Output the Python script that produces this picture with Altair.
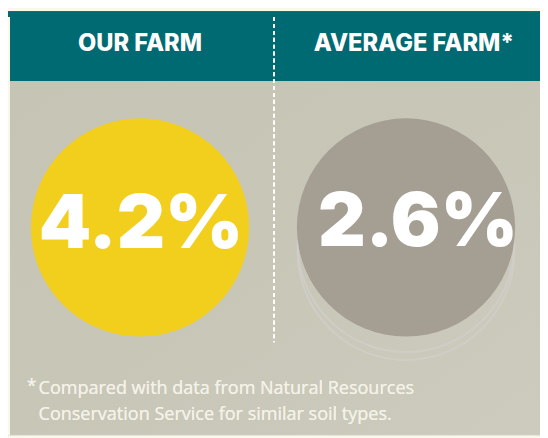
import altair as alt
import pandas as pd

# ---- data ----
farms = ["OUR FARM", "AVERAGE FARM*"]
values = [4.2, 2.6]
circle_colors = ["#F2CF1C", "#A59F93"]
footnote_mark = "*"
footnote_lines = ["Compared with data from Natural Resources",
                  "Conservation Service for similar soil types."]

df = pd.DataFrame({"farm": farms, "value": values})

W, H = 540, 430
TEAL = "#006A73"
CREAM = "#FAF8E8"

xscale = alt.Scale(type="point", domain=farms, range=[134, 404], padding=0)
X = alt.X("farm:N", scale=xscale, axis=None)

base = alt.Chart(df)

teal = base.mark_rect(color=TEAL).encode(
    x=alt.value(0), x2=alt.value(W), y=alt.value(0), y2=alt.value(71))
panel = base.mark_rect(color=alt.Gradient(
    gradient="linear", x1=0, y1=0, x2=1, y2=1,
    stops=[alt.GradientStop(color="#C6C4B4", offset=0),
           alt.GradientStop(color="#C8C6B7", offset=0.5),
           alt.GradientStop(color="#CDCBBD", offset=1)])).encode(
    x=alt.value(2), x2=alt.value(W), y=alt.value(71), y2=alt.value(H))
cream = base.mark_rect(color=CREAM).encode(
    x=alt.value(0), x2=alt.value(2), y=alt.value(6), y2=alt.value(H))

divider = base.mark_rule(color="white", strokeWidth=2, strokeDash=[4, 3]).encode(
    x=alt.value(270), y=alt.value(6), y2=alt.value(336))

header_our = base.transform_filter(alt.datum.farm == farms[0]).mark_text(
    font="Inter, Lato", fontSize=24, fontWeight=800, color="white",
    baseline="middle", dx=0).encode(x=X, y=alt.value(33.5), text="farm:N")
header_avg = base.transform_filter(alt.datum.farm == farms[1]).mark_text(
    font="Inter, Lato", fontSize=24, fontWeight=800, color="white",
    baseline="middle", dx=8).encode(x=X, y=alt.value(33.5), text="farm:N")

ring1 = base.transform_filter(alt.datum.farm == farms[1]).mark_point(
    filled=False, stroke="#D2CFCD", strokeWidth=2, size=220 ** 2,
    shape="circle", opacity=0.75, yOffset=17).encode(x=X, y=alt.value(219))
ring2 = base.transform_filter(alt.datum.farm == farms[1]).mark_point(
    filled=False, stroke="#D2CFCD", strokeWidth=2, size=220 ** 2,
    shape="circle", opacity=0.75, yOffset=25).encode(x=X, y=alt.value(219))

circles = base.mark_point(filled=True, opacity=1, size=221.5 ** 2,
                          shape="circle").encode(
    x=X, y=alt.value(219.5),
    color=alt.Color("farm:N", scale=alt.Scale(domain=farms, range=circle_colors),
                    legend=None))

label_base = base.transform_calculate(
    label="format(datum.value, '.1f') + '%'")
labels_our = label_base.transform_filter(alt.datum.farm == farms[0]).mark_text(
    font="Inter, Lato", fontSize=76, fontWeight=900, color="white",
    baseline="middle", dx=1).encode(x=X, y=alt.value(217), text="label:N")
labels_avg = label_base.transform_filter(alt.datum.farm == farms[1]).mark_text(
    font="Inter, Lato", fontSize=75, fontWeight=900, color="white",
    baseline="middle", dx=12).encode(x=X, y=alt.value(215), text="label:N")

star = base.mark_text(text=footnote_mark, font="Open Sans", fontSize=18,
                      color="#F4F2E8", align="left", baseline="middle").encode(
    x=alt.value(19), y=alt.value(382))
note = base.mark_text(text=footnote_lines, font="Open Sans", fontSize=18.3,
                      color="#F4F2E8", align="left", baseline="middle",
                      lineHeight=26).encode(
    x=alt.value(31), y=alt.value(384))

chart = alt.layer(teal, panel, cream, divider, header_our, header_avg, ring1,
                  ring2, circles, labels_our, labels_avg, star, note).properties(
    width=W, height=H, padding=0, autosize=alt.AutoSizeParams(type="none")
).configure_view(stroke=None).configure(background=CREAM)

chart.save("out.html", embed_options={"renderer": "svg", "actions": False})
